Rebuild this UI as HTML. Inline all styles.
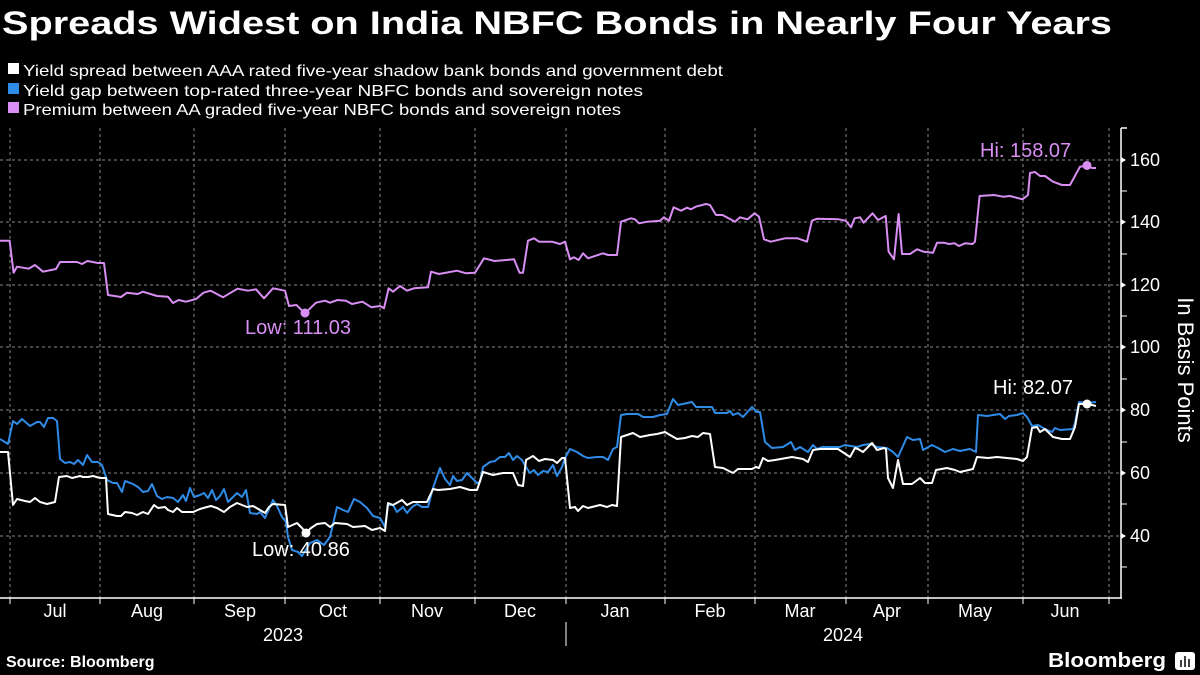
<!DOCTYPE html>
<html><head><meta charset="utf-8"><style>
body{margin:0;background:#000;}
svg{display:block;font-family:"Liberation Sans",sans-serif;}
</style></head><body>
<svg width="1200" height="675" viewBox="0 0 1200 675">
<rect width="1200" height="675" fill="#000"/>
<text x="2" y="34" fill="#fff" font-size="32" font-weight="bold" textLength="1110" lengthAdjust="spacingAndGlyphs">Spreads Widest on India NBFC Bonds in Nearly Four Years</text>
<rect x="8" y="63" width="11" height="11" fill="#fff"/>
<text x="23" y="76" fill="#fff" font-size="16" textLength="700" lengthAdjust="spacingAndGlyphs">Yield spread between AAA rated five-year shadow bank bonds and government debt</text>
<rect x="8" y="83" width="11" height="11" fill="#2f8be6"/>
<text x="23" y="96" fill="#fff" font-size="16" textLength="620" lengthAdjust="spacingAndGlyphs">Yield gap between top-rated three-year NBFC bonds and sovereign notes</text>
<rect x="8" y="102" width="11" height="11" fill="#d88ef2"/>
<text x="23" y="115" fill="#fff" font-size="16" textLength="598" lengthAdjust="spacingAndGlyphs">Premium between AA graded five-year NBFC bonds and sovereign notes</text>
<g stroke="#888" stroke-width="1" stroke-dasharray="3,3">
<line x1="0" x2="1121" y1="160" y2="160"/><line x1="0" x2="1121" y1="222" y2="222"/><line x1="0" x2="1121" y1="285" y2="285"/><line x1="0" x2="1121" y1="347" y2="347"/><line x1="0" x2="1121" y1="410" y2="410"/><line x1="0" x2="1121" y1="473" y2="473"/><line x1="0" x2="1121" y1="536" y2="536"/>
<line x1="10" x2="10" y1="128" y2="598"/><line x1="100" x2="100" y1="128" y2="598"/><line x1="194" x2="194" y1="128" y2="598"/><line x1="285" x2="285" y1="128" y2="598"/><line x1="380" x2="380" y1="128" y2="598"/><line x1="475" x2="475" y1="128" y2="598"/><line x1="566" x2="566" y1="128" y2="598"/><line x1="665" x2="665" y1="128" y2="598"/><line x1="755" x2="755" y1="128" y2="598"/><line x1="846" x2="846" y1="128" y2="598"/><line x1="928" x2="928" y1="128" y2="598"/><line x1="1023" x2="1023" y1="128" y2="598"/><line x1="1109" x2="1109" y1="128" y2="598"/>
</g>
<g stroke="#fff" stroke-width="1.5" fill="none">
<line x1="0" x2="1122" y1="598" y2="598"/>
<line x1="1121" x2="1121" y1="128" y2="598"/>
<line x1="1121" x2="1127" y1="128" y2="128"/>
<g stroke-width="1"><line x1="10" x2="10" y1="598" y2="604"/><line x1="100" x2="100" y1="598" y2="604"/><line x1="194" x2="194" y1="598" y2="604"/><line x1="285" x2="285" y1="598" y2="604"/><line x1="380" x2="380" y1="598" y2="604"/><line x1="475" x2="475" y1="598" y2="604"/><line x1="566" x2="566" y1="598" y2="604"/><line x1="665" x2="665" y1="598" y2="604"/><line x1="755" x2="755" y1="598" y2="604"/><line x1="846" x2="846" y1="598" y2="604"/><line x1="928" x2="928" y1="598" y2="604"/><line x1="1023" x2="1023" y1="598" y2="604"/><line x1="1109" x2="1109" y1="598" y2="604"/>
<line x1="566" x2="566" y1="622" y2="646"/>
<line x1="1121" x2="1127" y1="191" y2="191"/><line x1="1121" x2="1127" y1="254" y2="254"/><line x1="1121" x2="1127" y1="316" y2="316"/><line x1="1121" x2="1127" y1="379" y2="379"/><line x1="1121" x2="1127" y1="442" y2="442"/><line x1="1121" x2="1127" y1="504" y2="504"/><line x1="1121" x2="1127" y1="567" y2="567"/></g>
</g>
<g fill="#fff"><polygon points="1121,157 1126,160 1121,163"/><polygon points="1121,219 1126,222 1121,225"/><polygon points="1121,282 1126,285 1121,288"/><polygon points="1121,344 1126,347 1121,350"/><polygon points="1121,407 1126,410 1121,413"/><polygon points="1121,470 1126,473 1121,476"/><polygon points="1121,533 1126,536 1121,539"/></g>
<g fill="#fff" font-size="18">
<text x="1130" y="166">160</text><text x="1130" y="228">140</text><text x="1130" y="291">120</text><text x="1130" y="353">100</text><text x="1130" y="416">80</text><text x="1130" y="479">60</text><text x="1130" y="542">40</text>
</g>
<text transform="translate(1178,370) rotate(90)" fill="#fff" font-size="22" text-anchor="middle">In Basis Points</text>
<g fill="#fff" font-size="18" text-anchor="middle">
<text x="55" y="617">Jul</text><text x="147" y="617">Aug</text><text x="240" y="617">Sep</text><text x="333" y="617">Oct</text><text x="427" y="617">Nov</text><text x="520" y="617">Dec</text><text x="615" y="617">Jan</text><text x="710" y="617">Feb</text><text x="800" y="617">Mar</text><text x="887" y="617">Apr</text><text x="975" y="617">May</text><text x="1065" y="617">Jun</text>
<text x="283" y="641">2023</text><text x="843" y="641">2024</text>
</g>
<text x="6" y="667" fill="#fff" font-size="16" font-weight="bold">Source: Bloomberg</text>
<text x="1048" y="667" fill="#fff" font-size="20" font-weight="bold" textLength="118" lengthAdjust="spacingAndGlyphs">Bloomberg</text>
<rect x="1175" y="652" width="20" height="18" rx="3" fill="#fff"/>
<g stroke="#000" stroke-width="1.5"><line x1="1181" y1="660" x2="1181" y2="667"/><line x1="1185" y1="656" x2="1185" y2="667"/><line x1="1189" y1="659" x2="1189" y2="667"/></g>

<polyline fill="none" stroke="#d88ef2" stroke-width="2" stroke-linejoin="round" points="0,240.7 9.6,240.7 13.6,272.7 17,266.7 28.6,268.7 35,265 43,271.7 56,269 60,262 77,262 82,264 87.5,261 98,263 104,263 108,295 121,297 127,292.7 137.5,294 143,291.7 157,296 168,296.7 173,303 178.6,300 186,301.7 196,299 203.6,292.7 210.7,290.7 223,297.3 237.5,288.7 248,290.7 256,289.3 264,298.3 273,288.3 285,290.7 289,306 296.4,305 305,313.3 316,302.7 325,300.7 330,302.7 337.5,300 346,300.7 352,304 362.5,301.7 371.4,307.3 380,306 384,308.3 388.6,288.3 393,291.7 400,286 407,290.7 414,288.3 428,287.3 431,271.7 439,274 457,270.7 466,273.3 475,272.7 484,258.3 494.6,261 514,259.3 519.6,272.7 523,272.7 528,240.7 534,238.3 539,241.7 552,241.7 560,244 565,241.7 570,259.3 574,257.3 578.6,260 583,253.3 588,258.3 603,253.3 608,255 617,255 621,221.7 631,218.3 635,219.3 639,223.3 647.5,221.7 660,220.7 664,217.3 669,220.7 673.6,207.3 681,210.7 687,207.7 691,209.3 695.7,206.7 706,204 710,205 716,215 722.5,215 735,221.7 740,217.3 747.5,219.3 754.6,213.3 759,216.7 764,239.3 770.7,241.7 785,238.3 797.5,238.3 807,241.7 812,220.7 817,218.7 838.6,219.3 845.7,220.7 851,227.3 854.6,218.3 860,217.3 863.6,222.7 872.5,213.3 878,220 885.7,216 888.6,251.7 894,259.3 898.6,214 902,254 910,254 917,249.3 923.6,251.7 933,252.7 937,242.7 944,242.7 949,244 954.6,243.3 959,246 965,243.3 972.5,244 975,241.7 979.6,196 994,195 1003,196.7 1010,196 1022.5,199.3 1028,195 1030,173 1035,172 1040,176 1045,176 1053,181.7 1062,185 1070,185 1080,166.7 1087,165.7 1092,168 1096,168"/>

<polyline fill="none" stroke="#2f8be6" stroke-width="2" stroke-linejoin="round" points="0,439 8,444 13,421 17,424 22,419 30,426 37,422 40,422 44,427 48,418 53,418 57,421 60,459 65,463 70,462 74,464 78,460 83,465 87,455 92,462 98,462 102,465 107,480 113,483 117,483 122,492 125,481 133,484 138,487 143,492 148,491 152,484 157,496 162,499 167,497 173,498 178,502 183,495 186,501 190,488 194,497 200,495 204,493 208,498 212,490 216,500 220,496 224,489 228,502 233,497 237,493 242,497 246,490 250,513 257,514 260,512 265,518 273,500 277,506 282,517 286,522 288,537 292,550 298,552 302,556 310,543 317,540 324,545 330,537 337,507 343,510 348,512 354,499 360,502 367,508 373,516 380,518 385,527 388,505 393,505 397,512 403,507 407,513 412,507 417,504 422,507 428,507 433,488 440,468 445,479 450,485 453,476 457,481 462,480 467,473 472,478 477,483 480,482 483,467 490,462 495,461 500,457 505,457 509,453 513,460 517,456 522,460 526,467 530,473 534,470 538,475 543,471 548,472 553,465 557,476 562,467 565,458 570,449 577,452 583,456 588,458 597,457 603,457 608,460 613,449 617,447 621,415 627,414 638,414 643,417 653,417 660,415 667,414 673,399 678,405 692,402 696,407 712,407 715,413 727,413 730,411 733,415 738,413 743,417 752,407 757,412 760,412 765,442 772,448 783,447 791,442 795,450 800,447 808,452 813,445 817,449 822,447 840,447 845,445 857,447 863,445 870,444 877,447 887,448 893,452 898,457 907,437 913,440 920,439 923,450 932,445 938,448 945,452 953,449 960,451 970,449 976,452 978,415 987,416 1000,414 1005,419 1009,416 1017,415 1023,413 1027,417 1032,426 1038,425 1045,429 1052,432 1055,428 1060,430 1073,429 1075,423 1079,402 1087,403 1096,402"/>

<polyline fill="none" stroke="#fff" stroke-width="2" stroke-linejoin="round" points="0,452 8,452 13,505 17,499 25,501 30,502 35,498 40,502 47,504 55,502 59,477 67,476 72,478 80,476 83,477 88,477 93,476 100,478 106,478 108,514 117,516 121,516 125,512 132,513 137,515 143,512 148,514 154,505 158,508 165,507 168,510 173,512 177,508 182,512 193,512 200,509 207,507 211,506 217,508 224,512 230,507 237,503 247,507 253,506 260,510 265,513 269,507 273,504 285,505 288,527 297,523 302,528 306,533 311,528 317,524 325,523 330,527 335,523 347,524 353,527 365,526 372,530 380,528 385,531 388,503 393,505 402,500 407,505 413,502 427,502 433,489 438,490 450,489 460,487 470,490 477,490 483,472 493,475 503,473 513,473 518,485 523,486 526,460 533,456 539,461 545,459 553,460 557,463 562,458 565,458 570,508 575,507 578,511 583,506 588,508 600,505 607,507 612,505 617,506 621,437 627,435 633,433 640,437 650,435 657,434 665,432 670,435 677,439 685,438 692,436 698,437 703,433 710,434 715,467 723,468 733,473 738,469 752,469 756,467 759,468 763,458 768,461 775,460 792,457 803,459 808,462 813,450 820,449 838,449 850,457 855,448 858,449 863,452 868,447 872,443 877,450 884,448 886,449 888,478 893,488 898,460 903,484 912,484 920,478 925,483 932,483 936,470 947,468 955,470 960,472 973,469 977,457 988,458 997,457 1017,459 1023,461 1027,457 1032,428 1037,427 1040,432 1045,429 1053,437 1062,439 1070,439 1075,427 1079,404 1087,404 1092,405 1096,406"/>

<circle cx="305" cy="313" r="4.5" fill="#d88ef2"/>
<circle cx="1087" cy="165.5" r="4.5" fill="#d88ef2"/>
<circle cx="306" cy="533" r="4.5" fill="#fff"/>
<circle cx="1087" cy="404" r="4.5" fill="#fff"/>
<g font-size="20">
<text x="980" y="157" fill="#d88ef2">Hi: 158.07</text>
<text x="245" y="334" fill="#d88ef2">Low: 111.03</text>
<text x="252" y="556" fill="#fff">Low: 40.86</text>
<text x="993" y="394" fill="#fff">Hi: 82.07</text>
</g>
</svg>
</body></html>
